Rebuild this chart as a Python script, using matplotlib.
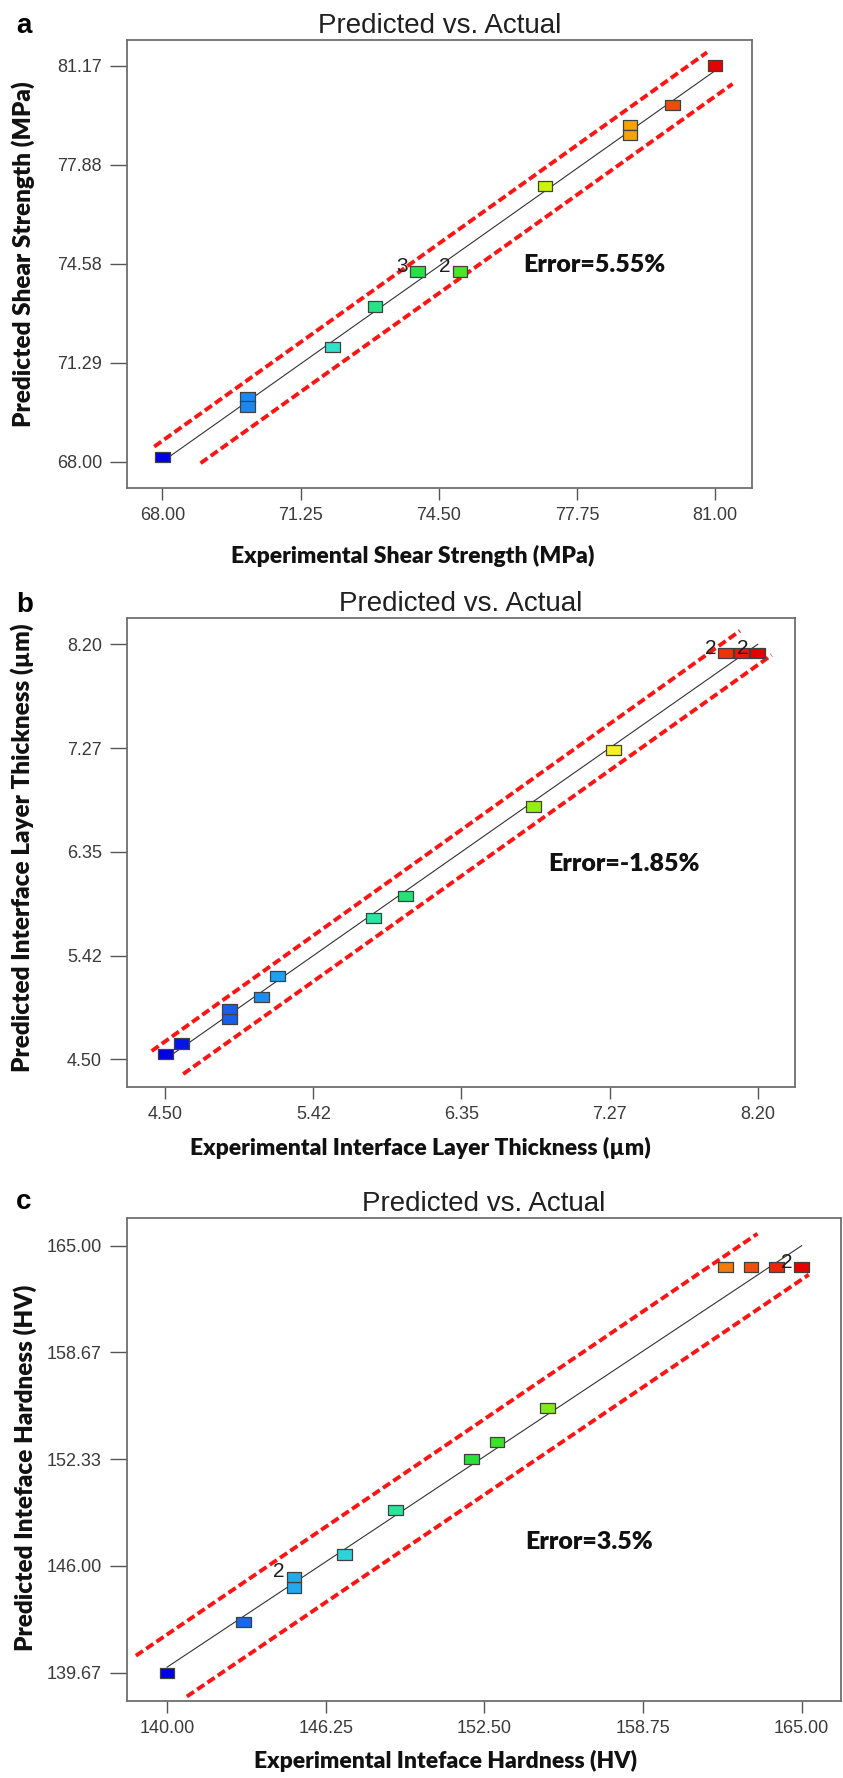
import numpy as np
import matplotlib
matplotlib.use("Agg")
import matplotlib.pyplot as plt
from matplotlib.path import Path
from matplotlib.colors import LinearSegmentedColormap, Normalize

# ---------------- data ----------------
# panel a : shear strength
a_actual = [68.0, 70.0, 70.0, 72.0, 73.0, 74.0, 75.0, 77.0, 79.0, 79.0, 80.0, 81.0]
a_pred = [68.15, 70.14, 69.83, 71.82, 73.16, 74.32, 74.32, 77.16, 79.19, 78.86, 79.85, 81.17]
a_reps = ["", "", "", "", "", "3", "2", "", "", "", "", ""]
a_xticks = [68.00, 71.25, 74.50, 77.75, 81.00]
a_xticklabels = ["68.00", "71.25", "74.50", "77.75", "81.00"]
a_yticks = [68.00, 71.2925, 74.585, 77.8775, 81.17]
a_yticklabels = ["68.00", "71.29", "74.58", "77.88", "81.17"]
a_upper_x = [67.81, 80.81]
a_upper_y = [68.50, 81.61]
a_lower_x = [68.90, 81.41]
a_lower_y = [67.95, 80.56]
a_error = "Error=5.55%"
a_xlabel = "Experimental Shear Strength (MPa)"
a_ylabel = "Predicted Shear Strength (MPa)"

# panel b : interface layer thickness
b_actual = [4.50, 4.60, 4.90, 4.90, 5.10, 5.20, 5.80, 6.00, 6.80, 7.30, 8.00, 8.10, 8.20]
b_pred = [4.545, 4.642, 4.943, 4.857, 5.055, 5.241, 5.757, 5.955, 6.755, 7.260, 8.121, 8.121, 8.121]
b_reps = ["", "", "", "", "", "", "", "", "", "", "2", "", "2"]
b_xticks = [4.50, 5.425, 6.35, 7.275, 8.20]
b_xticklabels = ["4.50", "5.42", "6.35", "7.27", "8.20"]
b_yticks = [4.50, 5.425, 6.35, 7.275, 8.20]
b_yticklabels = ["4.50", "5.42", "6.35", "7.27", "8.20"]
b_upper_x = [4.415, 8.089]
b_upper_y = [4.574, 8.320]
b_lower_x = [4.612, 8.287]
b_lower_y = [4.369, 8.104]
b_error = "Error=-1.85%"
b_xlabel = "Experimental Interface Layer Thickness (\u00b5m)"
b_ylabel = "Predicted Interface Layer Thickness (\u00b5m)"

# panel c : interface hardness
c_actual = [140.0, 143.0, 145.0, 145.0, 147.0, 149.0, 152.0, 153.0, 155.0, 162.0, 163.0, 164.0, 165.0]
c_pred = [139.67, 142.67, 144.72, 145.36, 146.69, 149.33, 152.36, 153.35, 155.37, 163.72, 163.72, 163.72, 163.72]
c_reps = ["", "", "", "2", "", "", "", "", "", "", "", "", "2"]
c_xticks = [140.00, 146.25, 152.50, 158.75, 165.00]
c_xticklabels = ["140.00", "146.25", "152.50", "158.75", "165.00"]
c_yticks = [139.67, 146.0025, 152.335, 158.6675, 165.00]
c_yticklabels = ["139.67", "146.00", "152.33", "158.67", "165.00"]
c_upper_x = [138.77, 163.26]
c_upper_y = [140.68, 165.71]
c_lower_x = [140.78, 165.28]
c_lower_y = [138.26, 163.28]
c_error = "Error=3.5%"
c_xlabel = "Experimental Inteface Hardness (HV)"
c_ylabel = "Predicted Inteface Hardness (HV)"

panel_letters = ["a", "b", "c"]
title_text = "Predicted vs. Actual"

# ---------------- style ----------------
W, H = 843, 1778
DPI = 100
NARROW = ["Liberation Sans Narrow", "Liberation Sans", "DejaVu Sans"]
BOLDF = ["Lato", "Open Sans", "DejaVu Sans"]
ARIAL = ["Liberation Sans", "DejaVu Sans"]

cmap = LinearSegmentedColormap.from_list("de", [
    (0.00, (0/255, 0/255, 230/255)),
    (0.10, (20/255, 90/255, 235/255)),
    (0.17, (30/255, 150/255, 240/255)),
    (0.25, (40/255, 200/255, 235/255)),
    (0.32, (50/255, 230/255, 190/255)),
    (0.40, (40/255, 225/255, 120/255)),
    (0.50, (40/255, 225/255, 40/255)),
    (0.60, (130/255, 235/255, 30/255)),
    (0.70, (210/255, 245/255, 0/255)),
    (0.76, (250/255, 240/255, 40/255)),
    (0.85, (245/255, 160/255, 10/255)),
    (0.92, (240/255, 80/255, 15/255)),
    (1.00, (230/255, 0/255, 0/255)),
])

rect_marker = Path([(-0.5, -0.35), (0.5, -0.35), (0.5, 0.35), (-0.5, 0.35), (-0.5, -0.35)],
                   [Path.MOVETO, Path.LINETO, Path.LINETO, Path.LINETO, Path.CLOSEPOLY])


def rect(l, t, r, b):
    return [l / W, 1 - b / H, (r - l) / W, (b - t) / H]


fig = plt.figure(figsize=(W / DPI, H / DPI), dpi=DPI)
fig.patch.set_facecolor("white")

panels = [
    dict(actual=a_actual, pred=a_pred, reps=a_reps, xt=a_xticks, xtl=a_xticklabels,
         yt=a_yticks, ytl=a_yticklabels, ux=a_upper_x, uy=a_upper_y, lx=a_lower_x, ly=a_lower_y,
         err=a_error, xl=a_xlabel, yl=a_ylabel,
         box=(127, 40, 751.7, 488), xlim=(67.17, 81.86), ylim=(67.125, 82.02),
         letter=(16, 33), err_pos=(594, 272), xl_pos=(413, 563), yl_pos=(23, 254)),
    dict(actual=b_actual, pred=b_pred, reps=b_reps, xt=b_xticks, xtl=b_xticklabels,
         yt=b_yticks, ytl=b_yticklabels, ux=b_upper_x, uy=b_upper_y, lx=b_lower_x, ly=b_lower_y,
         err=b_error, xl=b_xlabel, yl=b_ylabel,
         box=(127, 618.3, 795, 1086.7), xlim=(4.261, 8.433), ylim=(4.256, 8.432),
         letter=(16, 612), err_pos=(624, 871), xl_pos=(420, 1155), yl_pos=(22, 848)),
    dict(actual=c_actual, pred=c_pred, reps=c_reps, xt=c_xticks, xtl=c_xticklabels,
         yt=c_yticks, ytl=c_yticklabels, ux=c_upper_x, uy=c_upper_y, lx=c_lower_x, ly=c_lower_y,
         err=c_error, xl=c_xlabel, yl=c_ylabel,
         box=(127, 1217.7, 841, 1700.7), xlim=(138.42, 166.55), ylim=(138.01, 166.66),
         letter=(16, 1209), err_pos=(589, 1549), xl_pos=(446, 1768), yl_pos=(25, 1468)),
]

for letter, p in zip(panel_letters, panels):
    ax = fig.add_axes(rect(*p["box"]))
    ax.set_xlim(*p["xlim"])
    ax.set_ylim(*p["ylim"])
    for s in ax.spines.values():
        s.set_color("#6e6e6e")
        s.set_linewidth(1.3)
    ax.set_xticks(p["xt"])
    ax.set_xticklabels(p["xtl"], fontfamily=NARROW, fontsize=13, color="#3a3a3a")
    ax.set_yticks(p["yt"])
    ax.set_yticklabels(p["ytl"], fontfamily=NARROW, fontsize=13, color="#3a3a3a")
    ax.tick_params(axis="x", direction="out", length=8.6, width=1.0, color="#555555", pad=5)
    ax.tick_params(axis="y", direction="out", length=12.5, width=1.0, color="#555555", pad=5.5)

    lo, hi = p["xt"][0], p["xt"][-1]
    ax.plot([lo, hi], [lo, hi], color="#333333", lw=0.8, zorder=2)
    ax.plot(p["ux"], p["uy"], color="#ff1414", lw=2.8, ls=(0, (2.2, 1.0)), zorder=2,
            dash_capstyle="butt")
    ax.plot(p["lx"], p["ly"], color="#ff1414", lw=2.8, ls=(0, (2.2, 1.0)), zorder=2,
            dash_capstyle="butt")

    norm = Normalize(vmin=lo, vmax=hi)
    ax.scatter(p["actual"], p["pred"], c=p["actual"], cmap=cmap, norm=norm,
               marker=rect_marker, s=10.6 ** 2, edgecolors="#404040", linewidths=0.9, zorder=4)

    for xa, yp, lab in zip(p["actual"], p["pred"], p["reps"]):
        if lab:
            ax.annotate(lab, (xa, yp), xytext=(-11, 3.6), textcoords="offset points",
                        ha="center", va="center", fontsize=15, fontfamily=NARROW,
                        color="#1e1e1e", zorder=5)

    ax.set_title(title_text, fontfamily=NARROW, fontsize=20, color="#202020", pad=5)

    fig.text(p["err_pos"][0] / W, 1 - p["err_pos"][1] / H, p["err"], ha="center", va="baseline",
             fontfamily=BOLDF, fontweight="heavy", fontsize=18, color="#111111")
    fig.text(p["xl_pos"][0] / W, 1 - p["xl_pos"][1] / H, p["xl"], ha="center", va="baseline",
             fontfamily=BOLDF, fontweight="heavy", fontsize=16.5, color="#111111")
    fig.text(p["yl_pos"][0] / W, 1 - p["yl_pos"][1] / H, p["yl"], ha="center", va="center",
             rotation=90, fontfamily=BOLDF, fontweight="heavy", fontsize=17.5, color="#111111")
    fig.text(p["letter"][0] / W, 1 - p["letter"][1] / H, letter, ha="left", va="baseline",
             fontfamily=ARIAL, fontweight="bold", fontsize=20, color="black")

fig.savefig("out.png", dpi=DPI, facecolor="white")
